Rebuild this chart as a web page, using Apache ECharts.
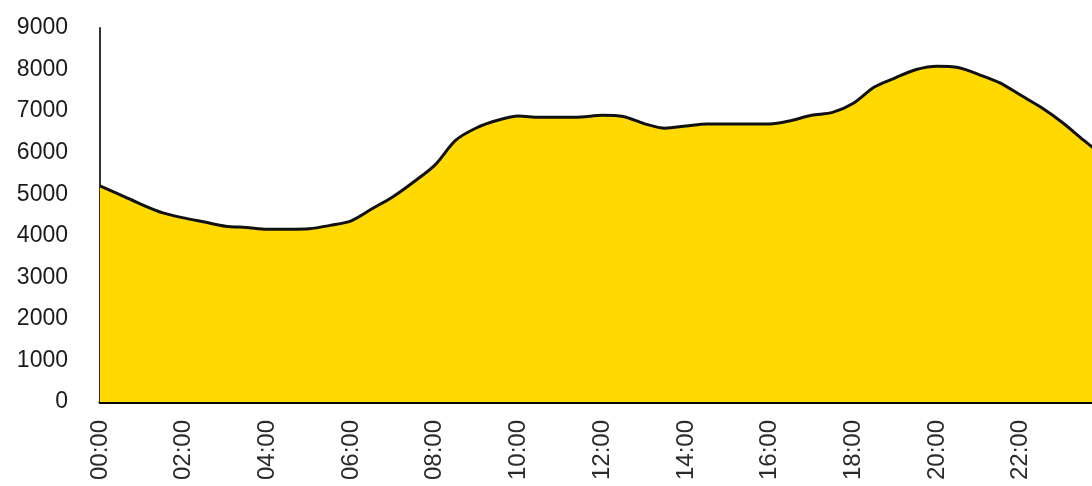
<!DOCTYPE html>
<html>
<head>
<meta charset="utf-8">
<script src="https://cdn.jsdelivr.net/npm/echarts@6/dist/echarts.min.js"></script>
<style>
html,body{margin:0;padding:0;background:#fff;}
#chart{width:1092px;height:486px;}
</style>
</head>
<body>
<div id="chart"></div>
<script>
// Half-hourly time stamps 00:00 .. 24:00
const times = ["00:00","00:30","01:00","01:30","02:00","02:30","03:00","03:30","04:00","04:30",
  "05:00","05:30","06:00","06:30","07:00","07:30","08:00","08:30","09:00","09:30",
  "10:00","10:30","11:00","11:30","12:00","12:30","13:00","13:30","14:00","14:30",
  "15:00","15:30","16:00","16:30","17:00","17:30","18:00","18:30","19:00","19:30",
  "20:00","20:30","21:00","21:30","22:00","22:30","23:00","23:30","24:00"];
const load = [5200,4980,4750,4550,4430,4330,4230,4200,4160,4160,
  4170,4250,4360,4650,4940,5300,5700,6300,6600,6780,
  6880,6850,6850,6860,6900,6870,6700,6590,6640,6690,
  6690,6690,6690,6770,6900,6970,7190,7580,7800,8000,
  8080,8050,7880,7680,7380,7080,6720,6300,5900];
const xTickLabels = ["00:00","02:00","04:00","06:00","08:00","10:00","12:00","14:00","16:00","18:00","20:00","22:00"];
const yTicks = [0,1000,2000,3000,4000,5000,6000,7000,8000,9000];

function toHours(t){const p=t.split(':');return +p[0]+(+p[1])/60;}
const points = times.map((t,i)=>[toHours(t),load[i]]);
const labelByHour = {};
xTickLabels.forEach(l=>{labelByHour[toHours(l)]=l;});

const chart = echarts.init(document.getElementById('chart'));
chart.setOption({
  animation:false,
  grid:{left:100,right:0,top:28,bottom:84,containLabel:false},
  xAxis:{
    type:'value',
    min:0,max:23.7,interval:2,
    axisLine:{show:true,onZero:false,lineStyle:{color:'#000',width:3}},
    axisTick:{show:false},
    axisLabel:{rotate:90,margin:18,fontSize:24,color:'#2a2a2a',fontFamily:'Liberation Sans',
      showMaxLabel:false,
      formatter:function(v){return labelByHour[v]!==undefined?labelByHour[v]:'';}},
    splitLine:{show:false}
  },
  yAxis:{
    type:'value',
    min:yTicks[0],max:yTicks[yTicks.length-1],interval:1000,
    axisLine:{show:true,lineStyle:{color:'#333',width:2}},
    axisTick:{show:false},
    axisLabel:{margin:32,fontSize:23,color:'#1a1a1a',fontFamily:'Liberation Sans',
      formatter:function(v){return String(v);}},
    splitLine:{show:false}
  },
  series:[{
    type:'line',
    data:points,
    smooth:0.3,
    showSymbol:false,
    clip:true,
    lineStyle:{color:'#111',width:3},
    areaStyle:{color:'#FFD900',opacity:1}
  }]
});
</script>
</body>
</html>
